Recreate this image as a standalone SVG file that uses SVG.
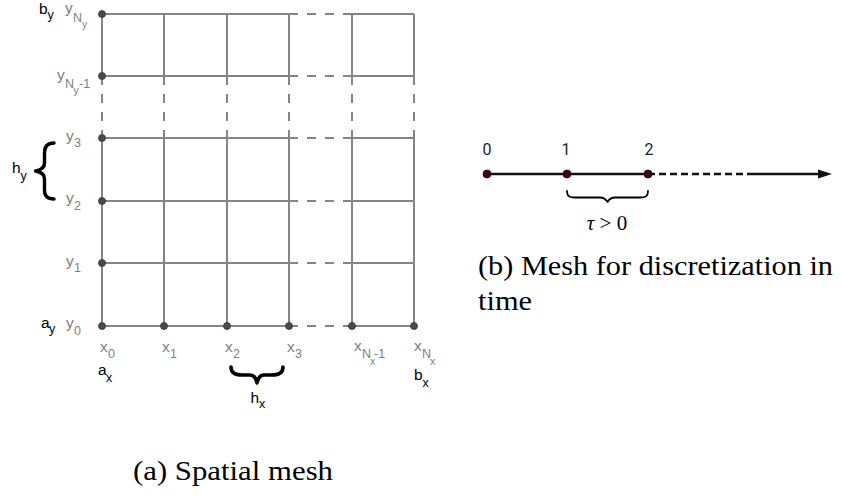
<svg xmlns="http://www.w3.org/2000/svg" width="841" height="501" viewBox="0 0 841 501">
<style>
.g{stroke:#858585;stroke-width:2;fill:none}
.gd{stroke:#858585;stroke-width:2;fill:none;stroke-dasharray:9 9}
.dot{fill:#4a4a4a;stroke:#333;stroke-width:0.8}
.lg{font-family:"Liberation Sans",Arial,sans-serif;font-size:15.5px;fill:#808080}
.lb{font-family:"Liberation Sans",Arial,sans-serif;font-size:15.5px;fill:#000}
.s{font-size:12.5px}
.ss{font-size:10.5px}
.br{fill:none;stroke:#000;stroke-linecap:round;stroke-linejoin:round}
.tl{stroke:#111;stroke-width:2.5;fill:none}
.tdot{fill:#3a0808;stroke:#220404;stroke-width:0.8}
.num{font-family:Roboto,"Liberation Sans",sans-serif;font-size:16px;fill:#222;text-anchor:middle}
.cap{font-family:"Liberation Serif","Times New Roman",serif;font-size:27.7px;fill:#000}
</style>
<rect width="841" height="501" fill="#fff"/>

<g id="connectors">
  <g id="rows">
    <path class="g" d="M102 14H289M352 14H414M102 76H289M352 76H414M102 138H289M352 138H414M102 201H289M352 201H414M102 263H289M352 263H414M102 326H289M352 326H414"/>
    <path class="gd" d="M289 14H352M289 76H352M289 138H352M289 201H352M289 263H352M289 326H352"/>
  </g>
  <g id="cols">
    <path class="g" d="M102 326V138M102 76V14M164 326V138M164 76V14M227 326V138M227 76V14M289 326V138M289 76V14M352 326V138M352 76V14M414 326V138M414 76V14"/>
    <path class="gd" d="M102 76V138M164 76V138M227 76V138M289 76V138M352 76V138M414 76V138"/>
  </g>
  <g id="time-axis">
    <path class="tl" d="M487 174H648"/>
    <path class="tl" d="M648 174H750" stroke-dasharray="7 4"/>
    <path class="tl" d="M750 174H820"/>
    <polygon points="818,169.5 832,174 818,178.5" fill="#111"/>
  </g>
</g>

<g id="grid-nodes">
  <circle class="dot" cx="102" cy="14" r="3.5"/>
  <circle class="dot" cx="102" cy="76" r="3.5"/>
  <circle class="dot" cx="102" cy="138" r="3.5"/>
  <circle class="dot" cx="102" cy="201" r="3.5"/>
  <circle class="dot" cx="102" cy="263" r="3.5"/>
  <circle class="dot" cx="102" cy="326" r="3.5"/>
  <circle class="dot" cx="164" cy="326" r="3.5"/>
  <circle class="dot" cx="227" cy="326" r="3.5"/>
  <circle class="dot" cx="289" cy="326" r="3.5"/>
  <circle class="dot" cx="352" cy="326" r="3.5"/>
  <circle class="dot" cx="414" cy="326" r="3.5"/>
</g>

<g id="y-labels" class="lg">
  <text x="65" y="13">y</text><text class="s" x="73" y="22">N</text><text class="ss" x="82" y="28">y</text>
  <text x="57" y="80">y</text><text class="s" x="65" y="88">N</text><text class="ss" x="73.5" y="94">y</text><text class="s" x="79" y="88">-1</text>
  <text x="66" y="140.5">y</text><text class="s" x="74" y="147">3</text>
  <text x="66" y="203">y</text><text class="s" x="74" y="209.5">2</text>
  <text x="66" y="265.5">y</text><text class="s" x="74" y="272">1</text>
  <text x="66" y="328">y</text><text class="s" x="74" y="334.5">0</text>
</g>

<g id="x-labels" class="lg">
  <text x="100" y="352">x</text><text class="s" x="108" y="357.5">0</text>
  <text x="162" y="352">x</text><text class="s" x="170" y="357.5">1</text>
  <text x="225" y="352">x</text><text class="s" x="233" y="357.5">2</text>
  <text x="287" y="352">x</text><text class="s" x="295" y="357.5">3</text>
  <text x="354" y="350.5">x</text><text class="s" x="362" y="358">N</text><text class="ss" x="370" y="364.5">x</text><text class="s" x="374" y="358">-1</text>
  <text x="414" y="350.5">x</text><text class="s" x="422" y="358">N</text><text class="ss" x="430" y="364.5">x</text>
</g>

<g id="bound-labels" class="lb">
  <text x="39" y="14">b</text><text class="s" x="47.5" y="18.5">y</text>
  <text x="41" y="328">a</text><text class="s" x="49" y="333">y</text>
  <text x="98" y="375">a</text><text class="s" x="106" y="381.5">x</text>
  <text x="414" y="380">b</text><text class="s" x="422.5" y="386.5">x</text>
</g>

<g id="hy">
  <path class="br" stroke-width="3.4" d="M54 143C47 143 44.5 147 44.5 153L44.5 163C44.5 168 41 170 35.5 171C41 172 44.5 174 44.5 179L44.5 190C44.5 196 47 199 54 199"/>
  <text class="lb" x="12" y="173">h</text><text class="lb s" x="20.5" y="180">y</text>
</g>

<g id="hx">
  <path class="br" stroke-width="3.6" d="M231 367C231 372 234 375 242 375L250 375C254 375 256 378 257 383C258 378 260 375 264 375L272 375C280 375 283 372 283 367"/>
  <text class="lb" x="250.5" y="403">h</text><text class="lb s" x="259" y="408">x</text>
</g>

<g id="time-nodes">
  <circle class="tdot" cx="487" cy="174" r="4"/>
  <circle class="tdot" cx="567" cy="174" r="4"/>
  <circle class="tdot" cx="648" cy="174" r="4"/>
  <text class="num" x="487" y="155">0</text>
  <text class="num" x="566" y="155">1</text>
  <text class="num" x="649" y="155">2</text>
</g>

<g id="tau">
  <path class="br" stroke-width="1.8" d="M567 191C567 196 569 197.5 575 197.5L600 197.5C604 197.5 606 199.5 607.5 202C609 199.5 611 197.5 615 197.5L640 197.5C646 197.5 648 196 648 191"/>
  <text font-family="Liberation Serif, serif" font-size="21" x="607" y="230" text-anchor="middle"><tspan font-style="italic">τ</tspan> &gt; 0</text>
</g>

<g id="captions" class="cap">
  <text x="133" y="480" textLength="200" lengthAdjust="spacingAndGlyphs">(a) Spatial mesh</text>
  <text x="478" y="275" textLength="355" lengthAdjust="spacingAndGlyphs">(b) Mesh for discretization in</text>
  <text x="478" y="310" textLength="54" lengthAdjust="spacingAndGlyphs">time</text>
</g>
</svg>
